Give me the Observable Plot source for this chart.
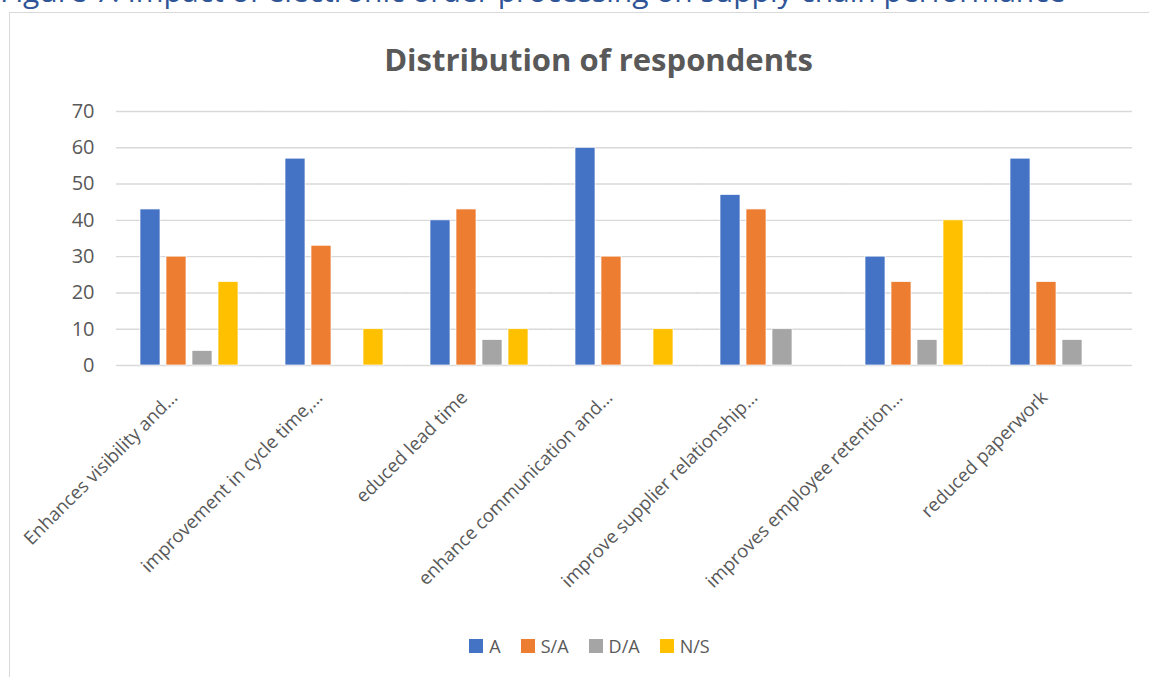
<!DOCTYPE html>
<html>
<head>
<meta charset="utf-8">
<script src="https://cdn.jsdelivr.net/npm/d3@7"></script>
<script src="https://cdn.jsdelivr.net/npm/@observablehq/plot@0.6"></script>
<style>
  html, body { margin: 0; padding: 0; background: #fff; overflow: hidden; }
  #wrap { position: relative; width: 1149px; height: 677px; overflow: hidden; font-family: "Open Sans", sans-serif; }
  #caption { position: absolute; left: 0; top: -30px; font-size: 30px; line-height: 41px; color: #2F5597; white-space: nowrap; font-family: "Open Sans", sans-serif; }
  #frame { position: absolute; left: 9px; top: 12px; width: 1160px; height: 700px; border: 1.5px solid #d9d9d9; box-sizing: border-box; }
  #title { position: absolute; left: 0; width: 1197px; top: 38px; text-align: center; font-size: 31px; font-weight: bold; color: #595959; }
  #chart { position: absolute; left: 0; top: 90px; }
  #legend { position: absolute; top: 634px; left: 0; width: 1149px; display: flex; justify-content: center; gap: 0; font-size: 18px; color: #595959; padding-left: 30px; box-sizing: border-box; }
  .item { display: flex; align-items: center; margin: 0 10px; }
  .sw { width: 14px; height: 14px; margin-right: 6px; }
</style>
</head>
<body>
<div id="wrap">
  <div id="caption">Figure 7: Impact of electronic order processing on supply chain performance</div>
  <div id="frame"></div>
  <div id="title">Distribution of respondents</div>
  <div id="chart"></div>
  <div id="legend"></div>
</div>
<script>
const categories = [
  "Enhances visibility and…",
  "improvement in cycle time,…",
  "educed lead time",
  "enhance communication and…",
  "improve supplier relationship…",
  "improves employee retention…",
  "reduced paperwork"
];
const series = ["A", "S/A", "D/A", "N/S"];
const colors = ["#4472C4", "#ED7D31", "#A5A5A5", "#FFC000"];
const valuesA  = [43, 57, 40, 60, 47, 30, 57];
const valuesSA = [30, 33, 43, 30, 43, 23, 23];
const valuesDA = [4, 0, 7, 0, 10, 7, 7];
const valuesNS = [23, 10, 10, 10, 0, 40, 0];
const yTicks = [0, 10, 20, 30, 40, 50, 60, 70];

const seriesValues = [valuesA, valuesSA, valuesDA, valuesNS];
const data = [];
categories.forEach((c, i) => {
  series.forEach((s, j) => {
    data.push({category: c, series: s, value: seriesValues[j][i]});
  });
});

const chart = Plot.plot({
  width: 1149,
  height: 530,
  marginTop: 21,
  marginBottom: 255,
  marginLeft: 114,
  marginRight: 16,
  style: {fontFamily: "Open Sans, sans-serif", color: "#595959", background: "transparent"},
  fx: {domain: categories, paddingInner: 0.313, paddingOuter: 0.157, label: null},
  x: {domain: series, paddingInner: 0.25, paddingOuter: 0, axis: null},
  y: {domain: [0, 70], label: null},
  color: {domain: series, range: colors},
  marks: [
    Plot.ruleY(yTicks, {stroke: "#d9d9d9", strokeWidth: 1.4, insetLeft: -23, insetRight: -23}),
    Plot.axisY({ticks: yTicks, tickSize: 0, tickPadding: 45, fontSize: 20, fill: "#595959", label: null}),
    Plot.axisFx({anchor: "bottom", tickRotate: -45, tickSize: 0, tickPadding: 29, dx: -15, fontSize: 18.5, fill: "#595959", label: null}),
    Plot.barY(data, {fx: "category", x: "series", y: "value", fill: "series", stroke: "white", strokeWidth: 0.7}),
  ]
});

document.getElementById("chart").appendChild(chart);

const legend = document.getElementById("legend");
series.forEach((s, j) => {
  const it = document.createElement("div");
  it.className = "item";
  const sw = document.createElement("div");
  sw.className = "sw";
  sw.style.background = colors[j];
  const t = document.createElement("span");
  t.textContent = s;
  it.appendChild(sw); it.appendChild(t);
  legend.appendChild(it);
});
</script>
</body>
</html>
